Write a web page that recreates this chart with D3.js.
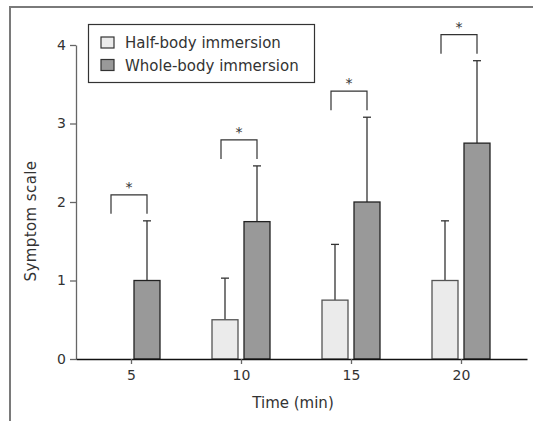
<!DOCTYPE html>
<html>
<head>
<meta charset="utf-8">
<script src="https://cdn.jsdelivr.net/npm/d3@7"></script>
<style>
  body { margin: 0; background: white; }
  text { font-family: "DejaVu Sans", sans-serif; fill: #333; }
</style>
</head>
<body>
<div id="chart"></div>
<script>
const width = 533;
const height = 421;

// data
const times = [5, 10, 15, 20];
const halfMean = [0, 0.5, 0.75, 1.0];
const halfSD = [0, 0.53, 0.71, 0.76];
const wholeMean = [1.0, 1.75, 2.0, 2.75];
const wholeSD = [0.76, 0.71, 1.08, 1.05];
const significant = [true, true, true, true];
const yTicks = [0, 1, 2, 3, 4];
const seriesNames = ["Half-body immersion", "Whole-body immersion"];

const halfColor = "#ebebeb";
const wholeColor = "#999999";

var svg = d3.select("#chart")
    .append("svg")
    .attr("width", width)
    .attr("height", height);

// outer frame (top + left only)
svg.append("path")
    .attr("d", "M10,422 L10,7 L533,7")
    .attr("fill", "none")
    .attr("stroke", "#7a7a7a")
    .attr("stroke-width", 2);

const x = d3.scaleLinear().domain([2.5, 23]).range([76, 527]);
const y = d3.scaleLinear().domain([0, 4]).range([359, 45]);

const barW = 26;
const offset = 16;

// y axis
const yAxis = svg.append("g")
    .attr("transform", "translate(76,0)")
    .call(d3.axisLeft(y).tickValues(yTicks).tickSize(6).tickSizeOuter(0).tickFormat(d3.format("d")));
yAxis.select(".domain").attr("stroke", "#666").attr("stroke-width", 1.3);
yAxis.selectAll(".tick line").attr("stroke", "#666").attr("stroke-width", 1.3);
yAxis.selectAll(".tick text").attr("x", -10).style("font-size", "14px").style("font-family", "DejaVu Sans").attr("fill", "#333");

const data = times.map((t, i) => ({
    t: t,
    half: halfMean[i], halfSD: halfSD[i],
    whole: wholeMean[i], wholeSD: wholeSD[i],
    sig: significant[i]
}));

// error bars first (drawn under bars)
function errBar(g, cx, mean, sd) {
    if (sd <= 0) return;
    g.append("line")
        .attr("x1", cx).attr("x2", cx)
        .attr("y1", y(mean)).attr("y2", y(mean + sd))
        .attr("stroke", "#333").attr("stroke-width", 1.3);
    g.append("line")
        .attr("x1", cx - 4).attr("x2", cx + 4)
        .attr("y1", y(mean + sd)).attr("y2", y(mean + sd))
        .attr("stroke", "#333").attr("stroke-width", 1.3);
}

const errG = svg.append("g");
data.forEach(d => {
    errBar(errG, x(d.t) - offset, d.half, d.halfSD);
    errBar(errG, x(d.t) + offset, d.whole, d.wholeSD);
});

svg.append("g")
    .selectAll("rect")
    .data(data.filter(d => d.half > 0))
    .join("rect")
    .attr("x", d => x(d.t) - offset - barW / 2)
    .attr("y", d => y(d.half))
    .attr("width", barW)
    .attr("height", d => y(0) - y(d.half))
    .attr("fill", halfColor)
    .attr("stroke", "#555")
    .attr("stroke-width", 1.3);

svg.append("g")
    .selectAll("rect")
    .data(data)
    .join("rect")
    .attr("x", d => x(d.t) + offset - barW / 2)
    .attr("y", d => y(d.whole))
    .attr("width", barW)
    .attr("height", d => y(0) - y(d.whole))
    .attr("fill", wholeColor)
    .attr("stroke", "#222")
    .attr("stroke-width", 1.3);

// x axis
const xAxis = svg.append("g")
    .attr("transform", "translate(0," + y(0) + ")")
    .call(d3.axisBottom(x).tickValues(times).tickSize(5).tickSizeOuter(0));
xAxis.select(".domain").attr("stroke", "#111").attr("stroke-width", 1.3);
xAxis.selectAll(".tick line").attr("stroke", "#666").attr("stroke-width", 1.3);
xAxis.selectAll(".tick text").attr("y", 11).style("font-size", "14px").style("font-family", "DejaVu Sans").attr("fill", "#333");

// significance brackets
const sigG = svg.append("g");
data.filter(d => d.sig).forEach(d => {
    const top = y(Math.max(d.half + d.halfSD, d.whole + d.wholeSD));
    const legBottom = top - 7;
    const barTop = legBottom - 19;
    const xl = x(d.t) - 20;
    const xr = x(d.t) + 16;
    sigG.append("path")
        .attr("d", `M${xl},${legBottom} L${xl},${barTop} L${xr},${barTop} L${xr},${legBottom}`)
        .attr("fill", "none")
        .attr("stroke", "#333")
        .attr("stroke-width", 1.2);
    sigG.append("text")
        .attr("x", (xl + xr) / 2)
        .attr("y", barTop - 3)
        .attr("text-anchor", "middle")
        .style("font-size", "14px")
        .attr("fill", "#444")
        .text("*");
});

// axis titles
svg.append("text")
    .attr("transform", "translate(36,221) rotate(-90)")
    .attr("text-anchor", "middle")
    .style("font-size", "15px")
    .style("letter-spacing", "0.4px")
    .text("Symptom scale");

svg.append("text")
    .attr("x", 293)
    .attr("y", 408)
    .attr("text-anchor", "middle")
    .style("font-size", "15px")
    .text("Time (min)");

// legend
const legend = svg.append("g");
legend.append("rect")
    .attr("x", 88.5).attr("y", 24.5)
    .attr("width", 226).attr("height", 58)
    .attr("fill", "white")
    .attr("stroke", "#333")
    .attr("stroke-width", 1.2);

const legendColors = [halfColor, wholeColor];
seriesNames.forEach((name, i) => {
    const ly = 37 + i * 22.5;
    legend.append("rect")
        .attr("x", 101).attr("y", ly)
        .attr("width", 13).attr("height", 11)
        .attr("fill", legendColors[i])
        .attr("stroke", "#333")
        .attr("stroke-width", 1.2);
    legend.append("text")
        .attr("x", 125).attr("y", ly + 11)
        .style("font-size", "15px")
        .text(name);
});
</script>
</body>
</html>
